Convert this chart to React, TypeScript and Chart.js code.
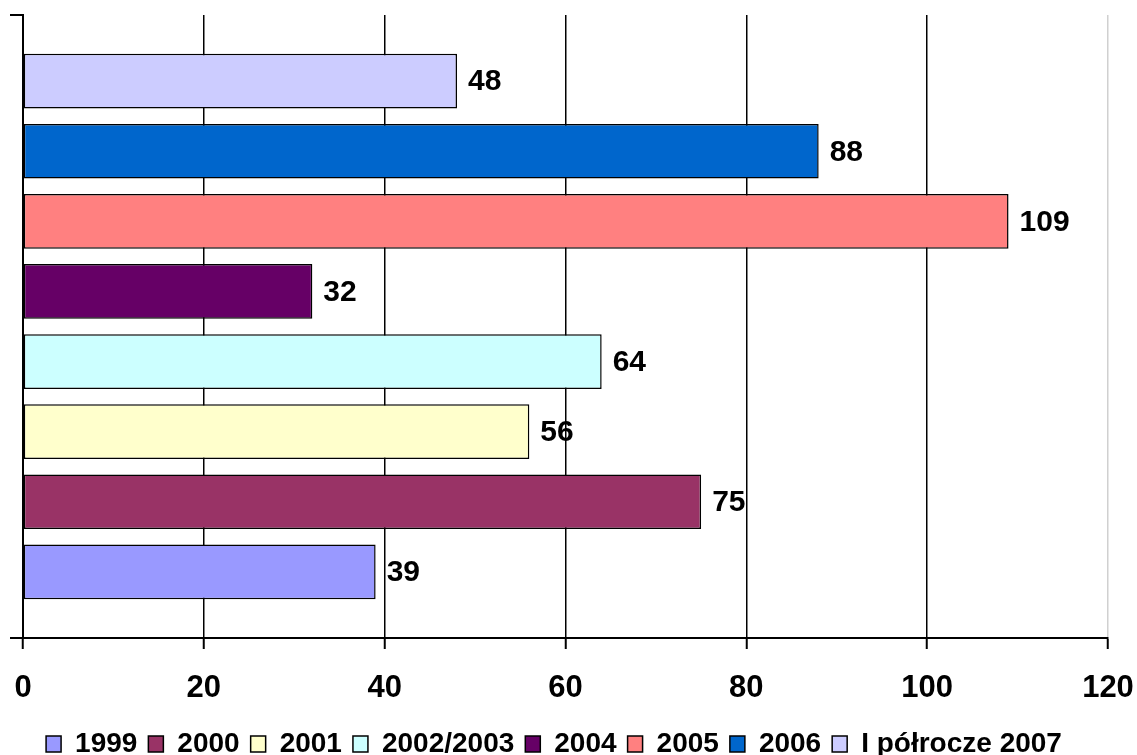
import React, { useEffect, useRef } from "react";
import { Chart, registerables } from "chart.js";

Chart.register(...registerables);

const seriesLabels = ["I półrocze 2007", "2006", "2005", "2004", "2002/2003", "2001", "2000", "1999"];
const seriesValues = [48, 88, 109, 32, 64, 56, 75, 39];
const seriesColors = ["#CCCCFF", "#0066CC", "#FF8080", "#660066", "#CCFFFF", "#FFFFCC", "#993366", "#9999FF"];
const categories = [""];
const xTicks = [0, 20, 40, 60, 80, 100, 120];

const FONT = 'Arial, "Liberation Sans", sans-serif';

const valueLabels = {
  id: "valueLabels",
  afterLayout(chart: any) {
    const lg = chart.legend;
    if (lg) {
      lg.top += 13;
      lg.bottom += 13;
    }
  },
  afterDatasetsDraw(chart: any) {
    const ctx = chart.ctx;
    ctx.save();
    ctx.font = `bold 30px ${FONT}`;
    ctx.fillStyle = "#000";
    ctx.textAlign = "left";
    ctx.textBaseline = "middle";
    chart.data.datasets.forEach((ds: any, i: number) => {
      const meta = chart.getDatasetMeta(i);
      meta.data.forEach((el: any, j: number) => {
        ctx.fillText(String(ds.data[j]), el.x + 11, el.y + 1);
      });
    });
    ctx.restore();
  },
};

export default function App() {
  const ref = useRef<HTMLCanvasElement>(null);
  useEffect(() => {
    document.body.style.margin = "0";
    const chart = new Chart(ref.current!, {
      type: "bar",
      data: {
        labels: categories,
        datasets: seriesLabels.map((label, i) => ({
          label,
          data: [seriesValues[i]],
          backgroundColor: seriesColors[i],
          borderColor: "#000",
          borderWidth: 1.5,
          borderSkipped: false,
          categoryPercentage: 0.9,
          barPercentage: 0.78,
        })),
      },
      options: {
        indexAxis: "y",
        animation: false,
        responsive: false,
        layout: { padding: { top: 15, right: 29, left: 0, bottom: 0 } },
        scales: {
          x: {
            min: 0,
            max: 120,
            afterBuildTicks: (scale: any) => {
              scale.ticks = xTicks.map((v) => ({ value: v }));
            },
            afterFit: (scale: any) => {
              scale.height = 68;
              scale.paddingLeft = 0;
              scale.paddingRight = 0;
            },
            border: { display: true, color: "#000", width: 2 },
            grid: {
              color: (c: any) => (c.tick && c.tick.value === 120 ? "#d0d0d0" : "#000"),
              lineWidth: 1.5,
              tickLength: 11,
              tickColor: "#000",
              tickWidth: 2,
            },
            ticks: {
              color: "#000",
              font: { family: FONT, size: 31, weight: "bold" },
              padding: 21,
              maxRotation: 0,
            },
          },
          y: {
            type: "category",
            afterFit: (scale: any) => {
              scale.width = 23;
            },
            border: { display: true, color: "#000", width: 2 },
            grid: {
              drawOnChartArea: false,
              color: "#000",
              lineWidth: 2,
              tickLength: 13,
              offset: true,
            },
            ticks: { display: false },
          },
        },
        plugins: {
          legend: {
            position: "bottom",
            reverse: true,
            labels: {
              color: "#000",
              font: { family: FONT, size: 28, weight: "bold" },
              boxWidth: 15,
              boxHeight: 16,
              padding: 11,
            },
          },
          tooltip: { enabled: false },
        },
      } as any,
      plugins: [valueLabels],
    });
    return () => chart.destroy();
  }, []);
  return (
    <div style={{ position: "absolute", left: 0, top: 0, width: 1137, height: 755 }}>
      <canvas ref={ref} width={1137} height={755} />
    </div>
  );
}
